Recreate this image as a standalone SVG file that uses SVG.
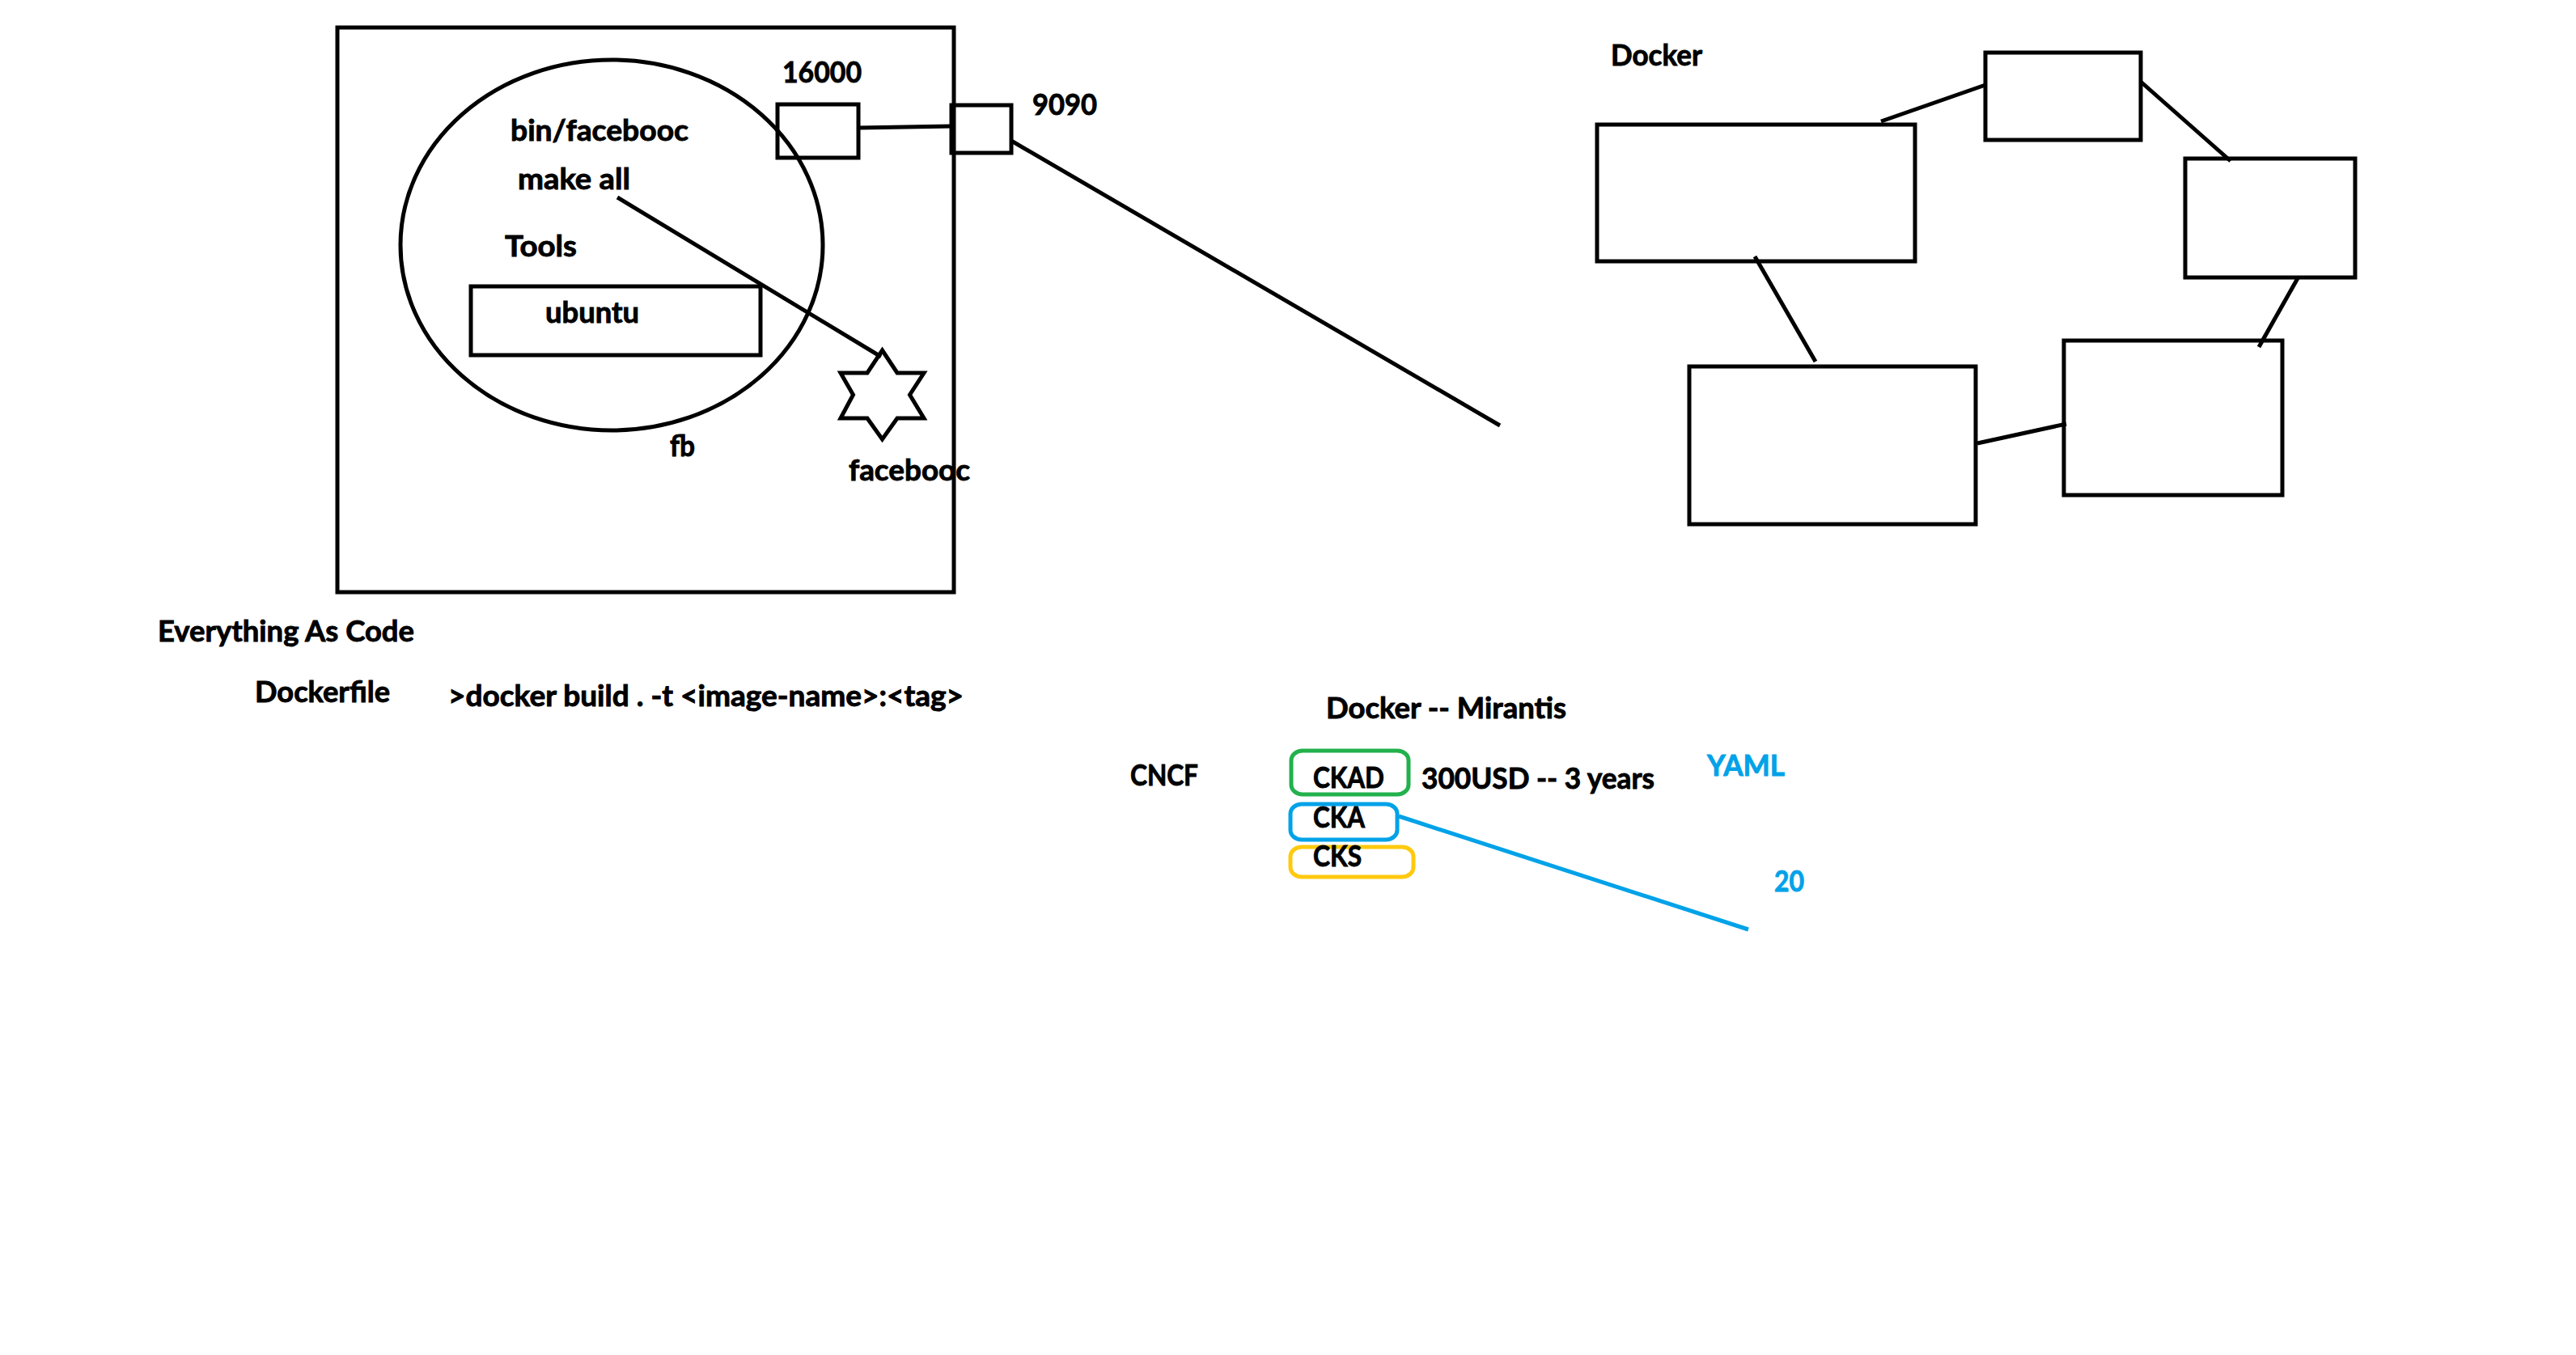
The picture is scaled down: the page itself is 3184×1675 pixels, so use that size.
<svg xmlns="http://www.w3.org/2000/svg" width="3184" height="1675" viewBox="0 0 3184 1675">
<style>
  .bg { fill: #ffffff; }
  .shape { fill: none; stroke: #000000; stroke-width: 5; }
  .conn { fill: none; stroke: #000000; stroke-width: 5; stroke-linecap: butt; }
  .t { font-family: Lato, "Open Sans", "Liberation Sans", sans-serif; font-weight: bold; font-size: 37px; fill: #000000; stroke: #000000; stroke-width: 0.9; }
  .blue { fill: #00A2E8; stroke: #00A2E8; }
  .cka { fill: none; stroke: #00A2E8; stroke-width: 5; }
  .ckad { fill: none; stroke: #22B14C; stroke-width: 5; }
  .cks { fill: none; stroke: #FFC90E; stroke-width: 5; }
  .bline { fill: none; stroke: #00A2E8; stroke-width: 5; }
</style>
<rect class="bg" x="0" y="0" width="3184" height="1675"/>

<g id="connectors">
  <line class="conn" x1="1061" y1="158" x2="1176" y2="156"/>
  <line class="conn" x1="1250" y1="174" x2="1854" y2="526"/>
  <line class="conn" x1="763" y1="244" x2="1089" y2="441"/>
  <line class="conn" x1="2325" y1="150" x2="2454" y2="105"/>
  <line class="conn" x1="2646" y1="101" x2="2757" y2="199"/>
  <line class="conn" x1="2840" y1="344" x2="2792" y2="429"/>
  <line class="conn" x1="2169" y1="317" x2="2244" y2="447"/>
  <line class="conn" x1="2444" y1="548" x2="2554" y2="524"/>
  <line class="bline" x1="1729" y1="1009" x2="2161" y2="1149"/>
</g>

<g id="host">
  <rect class="shape" x="417" y="34" width="762" height="698"/>
</g>

<g id="fb">
  <ellipse class="shape" cx="756" cy="303" rx="261" ry="229"/>
  <text class="t" x="828" y="564" textLength="31" lengthAdjust="spacingAndGlyphs">fb</text>
</g>

<g id="bin-facebooc">
  <text class="t" x="631" y="174" textLength="220" lengthAdjust="spacingAndGlyphs">bin/facebooc</text>
</g>
<g id="make-all">
  <text class="t" x="640" y="234" textLength="139" lengthAdjust="spacingAndGlyphs">make all</text>
</g>
<g id="tools">
  <text class="t" x="624" y="317" textLength="89" lengthAdjust="spacingAndGlyphs">Tools</text>
</g>
<g id="ubuntu">
  <rect class="shape" x="582" y="354" width="358" height="85"/>
  <text class="t" x="674" y="399" textLength="116" lengthAdjust="spacingAndGlyphs">ubuntu</text>
</g>

<g id="port-16000">
  <rect class="shape" x="961" y="129" width="100" height="66"/>
  <text class="t" x="967" y="102" textLength="98" lengthAdjust="spacingAndGlyphs">16000</text>
</g>
<g id="port-9090">
  <rect class="shape" x="1176" y="130" width="74" height="59"/>
  <text class="t" x="1276" y="142" textLength="80" lengthAdjust="spacingAndGlyphs">9090</text>
</g>

<g id="facebooc-star">
  <polygon class="shape" points="1090.5,433 1109,461 1142,461 1124.5,488 1142,517 1109,517 1090.5,543 1072,517 1039,517 1054.5,488 1039,461 1072,461"/>
  <text class="t" x="1049" y="594" textLength="150" lengthAdjust="spacingAndGlyphs">facebooc</text>
</g>

<g id="docker-label">
  <text class="t" x="1991" y="81" textLength="113" lengthAdjust="spacingAndGlyphs">Docker</text>
</g>
<g id="docker-box-a">
  <rect class="shape" x="1974" y="154" width="393" height="169"/>
</g>
<g id="docker-box-b">
  <rect class="shape" x="2454" y="65" width="192" height="108"/>
</g>
<g id="docker-box-c">
  <rect class="shape" x="2701" y="196" width="210" height="147"/>
</g>
<g id="docker-box-d">
  <rect class="shape" x="2551" y="421" width="270" height="191"/>
</g>
<g id="docker-box-e">
  <rect class="shape" x="2088" y="453" width="354" height="195"/>
</g>

<g id="everything-as-code">
  <text class="t" x="195" y="793" textLength="317" lengthAdjust="spacingAndGlyphs">Everything As Code</text>
</g>
<g id="dockerfile">
  <text class="t" x="315" y="868" textLength="167" lengthAdjust="spacingAndGlyphs">Dockerfile</text>
</g>
<g id="docker-build">
  <text class="t" x="554" y="873" textLength="637" lengthAdjust="spacingAndGlyphs">&gt;docker build . -t &lt;image-name&gt;:&lt;tag&gt;</text>
</g>

<g id="docker-mirantis">
  <text class="t" x="1639" y="888" textLength="297" lengthAdjust="spacingAndGlyphs">Docker -- Mirantis</text>
</g>
<g id="cncf">
  <text class="t" x="1397" y="971" textLength="84" lengthAdjust="spacingAndGlyphs">CNCF</text>
</g>
<g id="ckad">
  <rect class="ckad" x="1596" y="928" width="145" height="54" rx="14" ry="12"/>
  <text class="t" x="1623" y="974" textLength="88" lengthAdjust="spacingAndGlyphs">CKAD</text>
</g>
<g id="price">
  <text class="t" x="1757" y="975" textLength="288" lengthAdjust="spacingAndGlyphs">300USD -- 3 years</text>
</g>
<g id="cka">
  <rect class="cka" x="1595" y="994" width="132" height="44" rx="14" ry="12"/>
  <text class="t" x="1623" y="1023" textLength="64" lengthAdjust="spacingAndGlyphs">CKA</text>
</g>
<g id="cks">
  <rect class="cks" x="1595" y="1047" width="152" height="37" rx="14" ry="12"/>
  <text class="t" x="1623" y="1071" textLength="60" lengthAdjust="spacingAndGlyphs">CKS</text>
</g>
<g id="yaml">
  <text class="t blue" x="2110" y="959" textLength="96" lengthAdjust="spacingAndGlyphs">YAML</text>
</g>
<g id="twenty">
  <text class="t blue" x="2193" y="1102" textLength="37" lengthAdjust="spacingAndGlyphs">20</text>
</g>
</svg>
